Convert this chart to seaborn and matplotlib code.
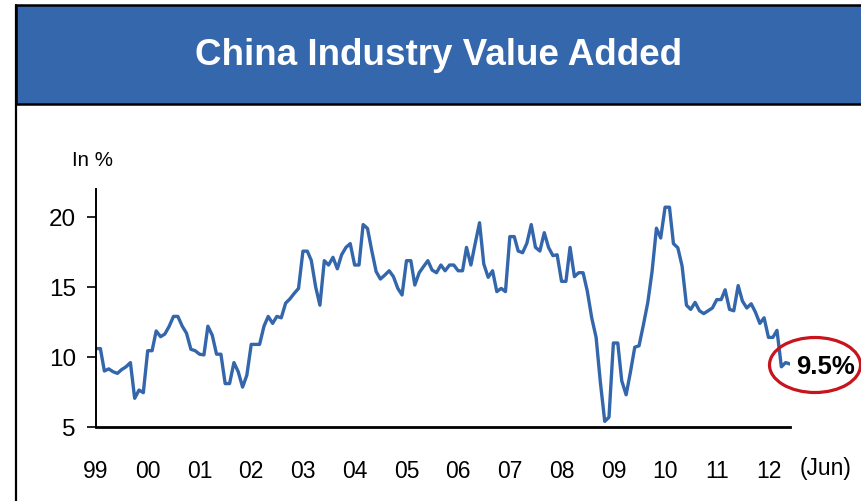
import numpy as np
import pandas as pd
import matplotlib.pyplot as plt
import matplotlib.dates as mdates
from matplotlib.patches import Rectangle, Ellipse
from matplotlib.lines import Line2D
from matplotlib.transforms import ScaledTranslation
import seaborn as sns

# industry value added, % y/y, monthly from Jan 1999 to Jun 2012
y1999 = [10.6, 10.6, 9.0, 9.15, 8.95, 8.83, 9.1, 9.3, 9.6, 7.05, 7.64, 7.45]
y2000 = [10.45, 10.45, 11.86, 11.45, 11.64, 12.2, 12.9, 12.9, 12.2, 11.7, 10.55, 10.45]
y2001 = [10.2, 10.15, 12.2, 11.55, 10.2, 10.2, 8.1, 8.1, 9.6, 8.95, 7.85, 8.7]
y2002 = [10.9, 10.9, 10.9, 12.2, 12.9, 12.4, 12.9, 12.8, 13.85, 14.15, 14.55, 14.9]
y2003 = [17.56, 17.56, 16.9, 15.0, 13.7, 16.88, 16.57, 17.12, 16.3, 17.3, 17.83, 18.1]
y2004 = [16.57, 16.57, 19.46, 19.18, 17.6, 16.1, 15.57, 15.85, 16.16, 15.74, 14.9, 14.43]
y2005 = [16.88, 16.88, 15.14, 16.02, 16.45, 16.88, 16.21, 16.02, 16.57, 16.16, 16.57, 16.57]
y2006 = [16.16, 16.16, 17.83, 16.57, 18.1, 19.59, 16.64, 15.69, 16.16, 14.67, 14.9, 14.67]
y2007 = [18.6, 18.6, 17.57, 17.45, 18.12, 19.46, 17.83, 17.57, 18.88, 17.83, 17.24, 17.3]
y2008 = [15.4, 15.4, 17.83, 15.74, 16.02, 16.02, 14.7, 12.8, 11.4, 8.2, 5.4, 5.7]
y2009 = [11.0, 11.0, 8.3, 7.3, 8.9, 10.7, 10.8, 12.3, 13.9, 16.1, 19.2, 18.5]
y2010 = [20.7, 20.7, 18.1, 17.8, 16.5, 13.7, 13.4, 13.9, 13.3, 13.1, 13.3, 13.5]
y2011 = [14.1, 14.1, 14.8, 13.4, 13.3, 15.1, 14.0, 13.5, 13.8, 13.2, 12.4, 12.8]
y2012 = [11.4, 11.4, 11.9, 9.3, 9.6, 9.5]

year_labels = ['99', '00', '01', '02', '03', '04', '05', '06',
               '07', '08', '09', '10', '11', '12']
end_label = '(Jun)'
title = 'China Industry Value Added'

values = (y1999 + y2000 + y2001 + y2002 + y2003 + y2004 + y2005 + y2006
          + y2007 + y2008 + y2009 + y2010 + y2011 + y2012)
df = pd.DataFrame({'month': pd.date_range('1999-01-01', periods=len(values), freq='MS'),
                   'iva': values})

blue = '#3567AC'
line_blue = '#3366AA'
red = '#C8141C'

sns.set_theme(style='ticks')
plt.rcParams['font.family'] = ['Liberation Sans', 'DejaVu Sans']
plt.rcParams['text.color'] = 'black'

fig = plt.figure(figsize=(8.61, 5.01), dpi=100)
fig.patch.set_facecolor('white')

# frame + title banner
fig.add_artist(Line2D([16 / 861, 16 / 861], [0, 496 / 501], color='black', lw=1.6,
                      transform=fig.transFigure))
fig.add_artist(Rectangle((16 / 861, 397 / 501), 1, 99 / 501, transform=fig.transFigure,
                         facecolor=blue, edgecolor='black', lw=1.8))
fig.text(0.509, 0.89, title, color='white', fontsize=26.5, fontweight='bold',
         ha='center', va='center')

ax = fig.add_axes([96 / 861, 74 / 501, 694 / 861, 238 / 501])
sns.lineplot(data=df, x='month', y='iva', ax=ax, color=line_blue, linewidth=2.4)

ax.set_xlim(df['month'].iloc[0], df['month'].iloc[-1])
ax.set_ylim(5, 22)
ax.set_yticks([5, 10, 15, 20])
ax.set_xticks(pd.date_range('1999-01-01', periods=len(year_labels), freq='YS'))
ax.set_xticklabels(year_labels)
ax.set_xlabel('')
ax.set_ylabel('')
ax.tick_params(axis='x', length=0, pad=24, labelsize=16.5, colors='black')
ax.tick_params(axis='y', length=6.5, width=1.2, pad=8, labelsize=17.5, colors='black')
sns.despine(ax=ax)
ax.spines['left'].set_color('black')
ax.spines['left'].set_linewidth(1.4)
ax.spines['bottom'].set_color('black')
ax.spines['bottom'].set_linewidth(2.0)

fig.text(92 / 861, 1 - 160 / 501, 'In %', fontsize=14.8, ha='center', va='center')

# last value callout
last_x = df['month'].iloc[-1]
last_y = df['iva'].iloc[-1]
tr = ScaledTranslation(mdates.date2num(last_x), last_y, ax.transData)
fig.add_artist(Ellipse((25, -1), 91, 55, transform=tr, fill=False, edgecolor=red, lw=2.3))
ax.annotate(f'{last_y}%', xy=(last_x, last_y), xytext=(35, -3), textcoords='offset pixels',
            ha='center', va='center', fontsize=18.5, fontweight='bold', annotation_clip=False)
ax.annotate(end_label, xy=(last_x, 0), xycoords=('data', 'axes fraction'), xytext=(36, -42),
            textcoords='offset pixels', ha='center', va='center', fontsize=16.5,
            annotation_clip=False)

fig.savefig('out.png', dpi=100)
